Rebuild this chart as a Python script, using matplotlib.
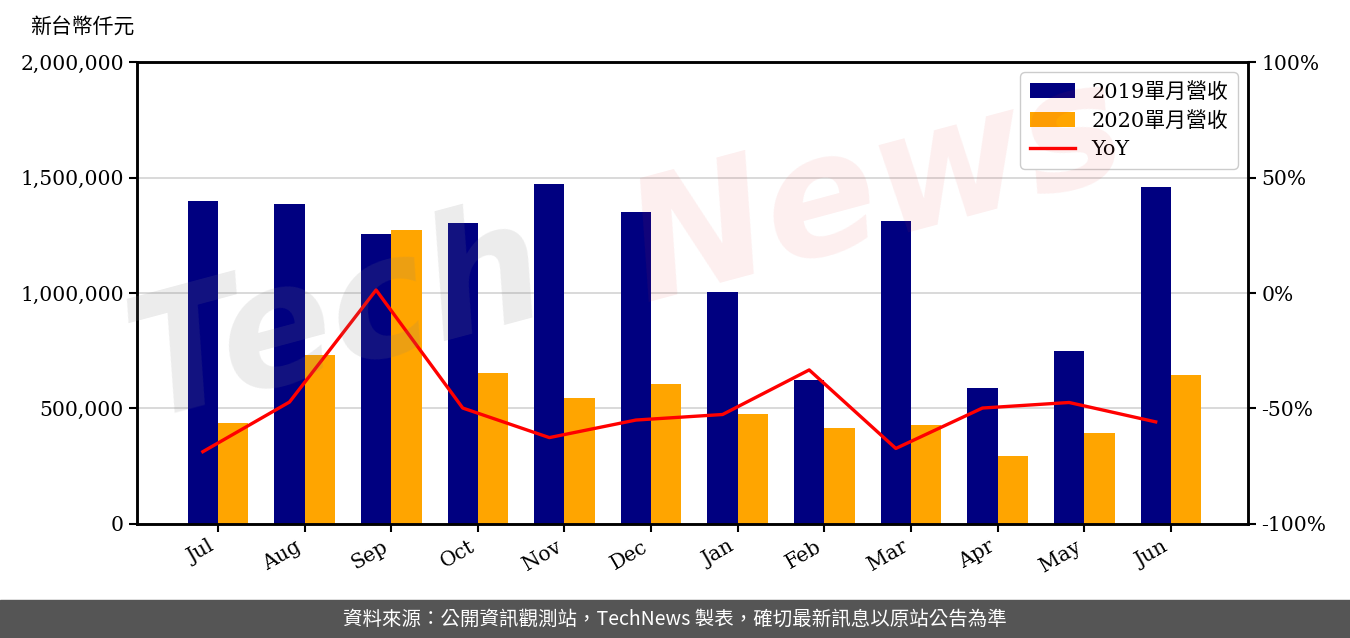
import matplotlib
matplotlib.use("Agg")
import matplotlib.pyplot as plt
import numpy as np
from matplotlib.ticker import FuncFormatter

months = ["Jul", "Aug", "Sep", "Oct", "Nov", "Dec", "Jan", "Feb", "Mar", "Apr", "May", "Jun"]
rev_2019 = [1398000, 1385000, 1255000, 1303000, 1472000, 1351000, 1004000, 623000, 1312000, 589000, 749000, 1459000]
rev_2020 = [437000, 732000, 1273000, 654000, 546000, 606000, 476000, 416000, 429000, 294000, 394000, 645000]
yoy = [-68.7, -47.2, 1.3, -49.8, -62.6, -55.0, -52.6, -33.3, -67.3, -49.8, -47.4, -55.8]

label_2019 = "2019單月營收"
label_2020 = "2020單月營收"
label_yoy = "YoY"
ylabel = "新台幣仟元"
footer = "資料來源：公開資訊觀測站，TechNews 製表，確切最新訊息以原站公告為準"

serif = ["DejaVu Serif", "Noto Sans CJK TC"]
cjk = ["Noto Sans CJK TC", "DejaVu Sans"]
fs = 14.6

fig = plt.figure(figsize=(13.5, 6.38), dpi=100)
ax = fig.add_axes([0.1015, 0.1787, 0.8229, 0.7241])
ax2 = ax.twinx()

x = np.arange(len(months))
w = 0.35
b1 = ax.bar(x - w / 2, rev_2019, w, color="#000080", label=label_2019, zorder=2)
b2 = ax.bar(x + w / 2, rev_2020, w, color="#FFA500", label=label_2020, zorder=2)
l1, = ax2.plot(x - w / 2, yoy, color="red", lw=2.4, label=label_yoy)

ax.set_ylim(0, 2000000)
ax.set_yticks([0, 500000, 1000000, 1500000, 2000000])
ax.yaxis.set_major_formatter(FuncFormatter(lambda v, p: f"{int(v):,}"))
ax.grid(axis="y", color="#d3d3d3", lw=1.2, zorder=0)
ax.set_axisbelow(True)
ax.set_xlim(-0.935, 11.89)
ax.set_xticks(x)
ax.set_xticklabels(months, rotation=30, ha="right", family=serif, fontsize=fs)

ax2.set_ylim(-100, 100)
ax2.set_yticks([-100, -50, 0, 50, 100])
ax2.yaxis.set_major_formatter(FuncFormatter(lambda v, p: f"{int(v)}%"))

for a in (ax, ax2):
    for s in a.spines.values():
        s.set_linewidth(1.8)
    a.tick_params(length=6, width=1.5, labelsize=fs)
    for t in a.get_yticklabels():
        t.set_family(serif)

fig.text(0.022, 0.958, ylabel, family=cjk, fontsize=15, va="center", ha="left")

leg = ax.legend(handles=[b1, b2, l1], loc="upper right", prop={"family": serif, "size": 15},
                fancybox=True, framealpha=1, edgecolor="#cccccc", borderpad=0.45,
                handlelength=2.15, labelspacing=0.45)

# footer band
fig.patches.append(plt.Rectangle((0, 0), 1, 38 / 638, transform=fig.transFigure,
                                 color="#555555", zorder=0))
fig.text(0.5, 19 / 638, footer, color="white", family=cjk, fontsize=14,
         ha="center", va="center")

# watermark
fig.text(0.25, 0.50, "Tech", fontsize=120, color=(0.5, 0.5, 0.5, 0.15), rotation=15,
         ha="center", va="center", style="italic", weight="bold", family="DejaVu Sans")
fig.text(0.65, 0.70, "News", fontsize=120, color=(0.9, 0.2, 0.2, 0.08), rotation=15,
         ha="center", va="center", style="italic", weight="bold", family="DejaVu Sans")

fig.savefig("out.png", dpi=100)
